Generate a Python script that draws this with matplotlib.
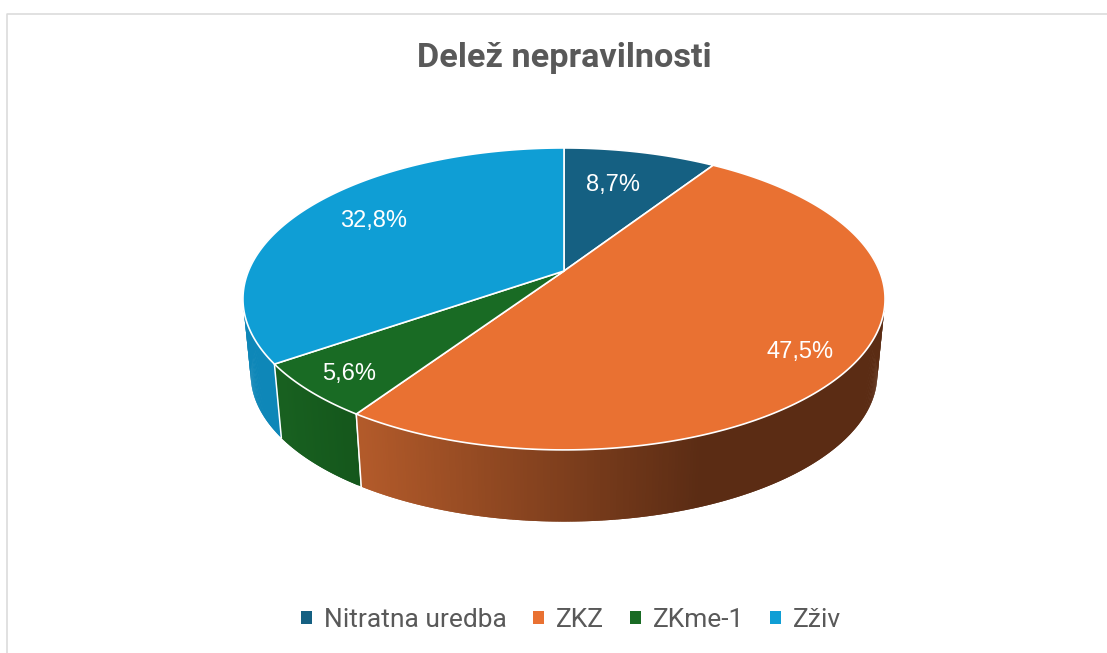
import numpy as np
import matplotlib
matplotlib.use("Agg")
import matplotlib.pyplot as plt
from matplotlib.patches import Patch

labels = ["Nitratna uredba", "ZKZ", "ZKme-1", "Zživ"]
values = [8.7, 47.5, 5.6, 32.8]
value_text = ["8,7%", "47,5%", "5,6%", "32,8%"]
colors = ["#156082", "#E97132", "#196B24", "#0F9ED5"]

# the pie is seen in perspective, so the centre sits above the middle of the ellipse
cx, cy = 564, 271
rx, ry = 315.5, 145.8
k = 0.185
depth_y = 76
depth_s = 0.976
label_r = [0.70, 0.84, 0.86, 0.75]
label_turn = [-2.1, 2.5, 0, 3]


def project(angle, r=1.0, lower=False):
    a = np.radians(angle)
    x = r * np.sin(a)
    y = r * np.cos(a)
    px = rx * x / (1 + k * y)
    py = ry * y / (1 + k * y)
    if lower:
        return cx + depth_s * px, cy + depth_y - depth_s * py
    return cx + px, cy - py


def side_color(i, px):
    # shading of the rim, goes darker to the right
    t = np.clip((px - 361) / (700 - 361), 0, 1)
    if i == 1:
        left, right = np.array([178, 90, 42]), np.array([91, 44, 20])
    elif i == 2:
        t = np.clip((px - 281) / 80, 0, 1)
        left, right = np.array([24, 96, 32]), np.array([20, 86, 27])
    elif i == 3:
        left, right = np.array([14, 135, 184]), np.array([14, 135, 184])
    else:
        left, right = np.array([15, 80, 110]), np.array([15, 80, 110])
    return (left + (right - left) * t) / 255


fig = plt.figure(figsize=(11.07, 6.53), dpi=100)
ax = fig.add_axes([0, 0, 1, 1])
ax.set_xlim(0, 1107)
ax.set_ylim(653, 0)
ax.axis("off")

# chart frame, cut off at right and bottom
ax.plot([6.5, 6.5, 1107], [653, 13.5, 13.5], color="#D9D9D9", lw=1.1)

angles = np.cumsum([0] + values) / np.sum(values) * 360

# rim first, every strip overlaps the next one so no seams show
step = 0.5
for a in np.arange(80, 285, step):
    i = np.searchsorted(angles, a + step / 2) - 1
    end = a + step * 2
    if i + 1 < len(angles):
        end = min(end, angles[i + 1])
    x1, y1 = project(a)
    x2, y2 = project(end)
    x3, y3 = project(end, lower=True)
    x4, y4 = project(a, lower=True)
    c = side_color(i, (x1 + x2) / 2)
    ax.fill([x1, x2, x3, x4], [y1, y2, y3, y4], color=c, lw=0, zorder=2)

# white lines between the slices on the rim
for a in angles[2:4]:
    x1, y1 = project(a)
    x2, y2 = project(a, lower=True)
    ax.plot([x1, x2], [y1, y2], color="white", lw=1.1, zorder=3)

# top of the pie
for i in range(len(values)):
    t = np.linspace(angles[i], angles[i + 1], 200)
    px, py = project(t)
    ax.fill(np.r_[cx, px], np.r_[cy, py], facecolor=colors[i], edgecolor="white",
            lw=1.2, joinstyle="round", zorder=4)

    mid = (angles[i] + angles[i + 1]) / 2 + label_turn[i]
    tx, ty = project(mid, label_r[i])
    ax.text(tx, ty + 2, value_text[i], color="white", fontsize=17, family="Liberation Sans",
            ha="center", va="center", zorder=5)

ax.text(564, 58, "Delež nepravilnosti", color="#595959", fontsize=24.7, family="Roboto",
        fontweight="bold", ha="center", va="center")

handles = [Patch(facecolor=c, edgecolor="none") for c in colors]
ax.legend(handles, labels, ncol=4, loc="center", bbox_to_anchor=(571, 620),
          bbox_transform=ax.transData, frameon=False,
          labelcolor="#595959", handlelength=0.42, handleheight=0.42,
          handletextpad=0.44, columnspacing=1.0,
          prop={"family": "Roboto", "size": 19})

fig.savefig("out.png", dpi=100)
